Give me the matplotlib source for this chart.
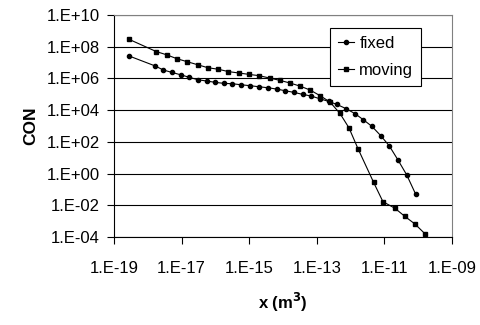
import numpy as np
import matplotlib
matplotlib.use("Agg")
import matplotlib.pyplot as plt
from matplotlib.ticker import FixedLocator, FuncFormatter, NullLocator

plt.rcParams['font.family'] = ['Liberation Sans', 'DejaVu Sans']

# fixed series (x in m^3, concentration)
fixed_x = [2.8e-19, 1.6e-18, 2.9e-18, 5.2e-18, 9.4e-18, 1.7e-17, 3.05e-17, 5.5e-17,
           9.9e-17, 1.8e-16, 3.2e-16, 5.8e-16, 1.08e-15, 1.95e-15, 3.6e-15, 6.5e-15,
           1.17e-14, 2.1e-14, 3.8e-14, 6.9e-14, 1.22e-13, 2.25e-13, 3.96e-13, 7.3e-13,
           1.35e-12, 2.4e-12, 4.3e-12, 7.8e-12, 1.4e-11, 2.5e-11, 4.6e-11, 8.4e-11]
fixed_y = [2.6e7, 6.3e6, 3.4e6, 2.4e6, 1.7e6, 1.18e6, 8.3e5, 6.9e5,
           5.7e5, 4.9e5, 4.66e5, 4.0e5, 3.5e5, 3.0e5, 2.6e5, 2.15e5,
           1.68e5, 1.33e5, 1.0e5, 7.8e4, 5.3e4, 3.6e4, 2.3e4, 1.27e4,
           6.1e3, 2.5e3, 960, 252, 57, 7.7, 0.84, 0.053]

# moving series
moving_x = [2.8e-19, 1.8e-18, 3.6e-18, 7.3e-18, 1.48e-17, 3.0e-17, 6.0e-17, 1.22e-16,
            2.44e-16, 5.0e-16, 1.0e-15, 2.0e-15, 4.05e-15, 8.1e-15, 1.6e-14, 3.2e-14,
            6.4e-14, 1.27e-13, 2.46e-13, 4.85e-13, 8.97e-13, 1.66e-12, 4.8e-12, 9.1e-12,
            2.06e-11, 4.0e-11, 8.0e-11, 1.62e-10]
moving_y = [2.9e8, 4.9e7, 3.1e7, 1.75e7, 1.13e7, 7.3e6, 4.75e6, 3.8e6,
            2.7e6, 2.2e6, 1.8e6, 1.49e6, 1.06e6, 7.6e5, 5.2e5, 3.3e5,
            1.86e5, 8.1e4, 3.3e4, 6.3e3, 780, 38, 0.29, 0.0173,
            6.7e-3, 2.1e-3, 6.9e-4, 1.6e-4]

x_ticks = [1e-19, 1e-17, 1e-15, 1e-13, 1e-11, 1e-9]
y_ticks = [1e-4, 1e-2, 1e0, 1e2, 1e4, 1e6, 1e8, 1e10]


def excel_fmt(v, pos):
    exp = int(round(np.log10(v)))
    return "1.E%+03d" % exp


fig = plt.figure(figsize=(4.8, 3.25), dpi=100)
ax = fig.add_axes([0.2375, 0.270, 0.704, 0.684])

ax.plot(fixed_x, fixed_y, color='black', lw=0.8, marker='o', ms=3.0, label='fixed')
ax.plot(moving_x, moving_y, color='black', lw=0.8, marker='s', ms=3.0, label='moving')

ax.set_xscale('log')
ax.set_yscale('log')
ax.set_xlim(1e-19, 1e-9)
ax.set_ylim(1e-4, 1e10)
ax.xaxis.set_major_locator(FixedLocator(x_ticks))
ax.yaxis.set_major_locator(FixedLocator(y_ticks))
ax.xaxis.set_minor_locator(NullLocator())
ax.yaxis.set_minor_locator(NullLocator())
ax.xaxis.set_major_formatter(FuncFormatter(excel_fmt))
ax.yaxis.set_major_formatter(FuncFormatter(excel_fmt))
ax.tick_params(axis='both', direction='out', length=5, width=0.8, labelsize=12, colors='black')
ax.tick_params(axis='x', pad=12)
ax.tick_params(axis='y', pad=5)

ax.yaxis.grid(True, color='black', lw=0.8)
ax.set_axisbelow(True)

for side in ['top', 'right']:
    ax.spines[side].set_color('#808080')
for side in ['left', 'bottom']:
    ax.spines[side].set_color('black')

ax.set_ylabel('CON', fontsize=12.5, fontweight='bold', labelpad=6)
ax.set_xlabel('x (m$^\\mathbf{3}$)', fontsize=12, fontweight='bold', labelpad=11)

leg = ax.legend(loc='upper right', bbox_to_anchor=(0.908, 0.94), fontsize=12,
                frameon=True, fancybox=False, edgecolor='black', framealpha=1,
                handlelength=1.0, handletextpad=0.3, borderaxespad=0,
                labelspacing=0.75, borderpad=0.45)
leg.get_frame().set_linewidth(0.8)

fig.savefig('out.png', dpi=100)
